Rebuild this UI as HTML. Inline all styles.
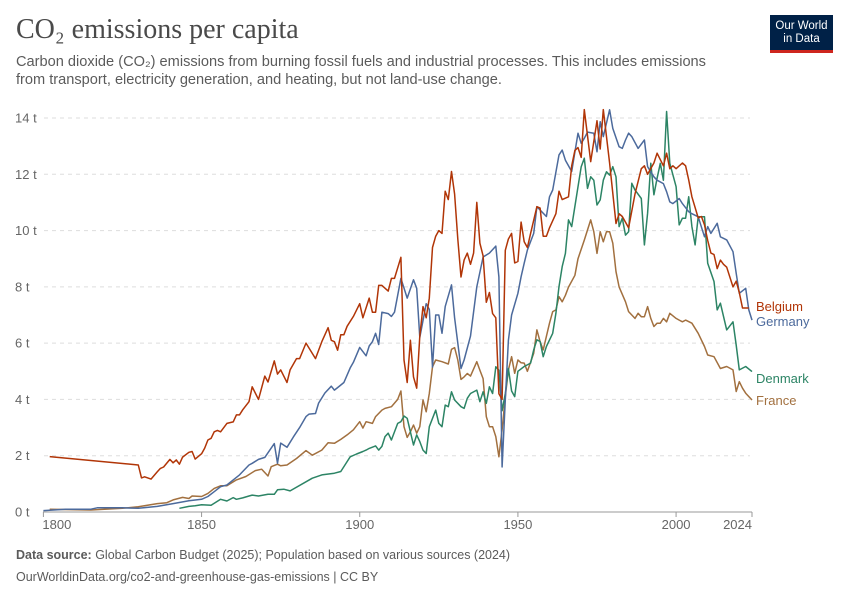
<!DOCTYPE html>
<html><head><meta charset="utf-8">
<style>
body{margin:0;background:#fff;font-family:"Liberation Sans",sans-serif;}
#wrap{position:relative;width:850px;height:600px;overflow:hidden;}
.t{position:absolute;white-space:nowrap;}
</style></head>
<body>
<div id="wrap">
<div class="t" style="left:16px;top:14px;font-family:'Liberation Serif',serif;font-size:28px;font-weight:normal;color:#4a4a4a;">CO₂ emissions per capita</div>
<div class="t" style="left:16px;top:53px;font-size:14.6px;line-height:18px;color:#5b5b5b;">Carbon dioxide (CO₂) emissions from burning fossil fuels and industrial processes. This includes emissions<br>from transport, electricity generation, and heating, but not land-use change.</div>
<div style="position:absolute;left:770px;top:15px;width:63px;height:38px;background:#002147;border-bottom:3px solid #ce261e;box-sizing:border-box;color:#fff;font-size:11.5px;line-height:13px;text-align:center;padding-top:5px;">Our World<br>in Data</div>
<svg id="chart" width="850" height="600" style="position:absolute;left:0;top:0;"></svg>
<div class="t" style="left:16px;top:548px;font-size:12.5px;color:#5b5b5b;"><b>Data source:</b> Global Carbon Budget (2025); Population based on various sources (2024)</div>
<div class="t" style="left:16px;top:570px;font-size:12.5px;color:#5b5b5b;">OurWorldinData.org/co2-and-greenhouse-gas-emissions | CC BY</div>
</div>
<script>
const yTicks=[0,2,4,6,8,10,12,14];
const xTicks=[1800,1850,1900,1950,2000,2024];
const seriesNames=["Belgium","Germany","Denmark","France"];
const belgiumYears=[1802,1830,1831,1832,1834,1836,1837,1838,1840,1841,1842,1843,1844,1846,1847,1848,1850,1851,1852,1853,1854,1855,1856,1858,1860,1861,1862,1863,1865,1866,1868,1870,1871,1873,1874,1875,1877,1878,1880,1881,1883,1886,1888,1890,1891,1892,1893,1894,1895,1896,1898,1900,1901,1903,1904,1905,1906,1907,1909,1910,1911,1913,1914,1915,1916,1917,1918,1919,1920,1921,1922,1923,1924,1925,1926,1927,1928,1929,1930,1931,1932,1933,1934,1935,1936,1937,1938,1939,1940,1941,1942,1943,1944,1945,1946,1947,1948,1949,1950,1951,1952,1953,1954,1956,1957,1958,1959,1960,1962,1963,1964,1966,1967,1968,1969,1970,1971,1973,1975,1976,1977,1979,1981,1982,1983,1985,1987,1989,1990,1991,1993,1994,1996,1997,1998,1999,2000,2002,2003,2004,2005,2007,2008,2009,2010,2011,2012,2013,2014,2015,2016,2018,2019,2020,2021,2022,2023,2024];
const belgiumValues=[1.97,1.67,1.21,1.25,1.17,1.43,1.55,1.6,1.87,1.75,1.85,1.7,1.95,2.12,2.15,1.88,2.07,2.27,2.56,2.62,2.85,2.9,2.85,3.15,3.2,3.45,3.45,3.63,3.92,4.45,4.0,4.83,4.62,5.37,4.9,5.05,4.6,5.05,5.45,5.45,6.0,5.45,6.05,6.55,6.1,6.05,5.75,6.3,6.3,6.6,6.95,7.4,6.9,7.6,7.1,7.1,8.05,8.05,7.85,8.3,8.3,9.05,5.4,4.6,6.1,4.8,4.4,6.25,7.3,6.9,7.6,9.4,9.8,10.0,9.9,11.4,11.1,12.1,11.3,9.7,8.35,8.95,9.2,8.8,9.2,11.0,9.55,9.1,7.45,7.8,7.05,6.9,4.2,4.0,9.3,9.7,9.9,8.85,8.9,10.3,9.6,9.4,9.9,10.85,10.8,9.8,9.8,10.1,10.6,11.4,11.1,11.2,12.3,12.85,12.95,12.6,14.3,12.45,13.9,12.9,14.3,12.4,10.25,10.6,10.5,10.1,11.3,12.2,12.3,12.0,12.4,12.75,12.3,12.75,12.2,12.3,12.2,12.4,12.3,11.8,11.2,10.45,10.5,10.2,9.65,9.2,9.15,8.65,8.95,8.8,8.7,8.0,8.2,7.8,7.25,7.25,7.25];
const germanyYears=[1800,1807,1815,1817,1825,1830,1836,1841,1846,1850,1852,1854,1856,1858,1860,1862,1865,1866,1868,1870,1872,1873,1874,1875,1877,1879,1881,1883,1884,1886,1887,1889,1891,1892,1893,1895,1897,1898,1900,1902,1903,1904,1905,1906,1907,1909,1910,1911,1913,1915,1917,1918,1919,1921,1922,1923,1924,1925,1926,1927,1929,1930,1932,1933,1935,1937,1939,1941,1943,1944,1945,1946,1947,1948,1950,1951,1952,1953,1955,1956,1957,1959,1960,1961,1963,1964,1965,1967,1969,1970,1971,1972,1974,1975,1976,1977,1979,1980,1982,1983,1984,1985,1986,1988,1990,1991,1993,1994,1996,1997,1998,1999,2001,2002,2004,2005,2007,2009,2010,2011,2013,2014,2016,2018,2019,2020,2022,2023,2024];
const germanyValues=[0.05,0.1,0.1,0.15,0.15,0.13,0.2,0.3,0.4,0.45,0.55,0.72,0.9,0.96,1.14,1.32,1.67,1.73,1.87,1.94,2.27,2.43,1.73,2.45,2.3,2.66,3.0,3.39,3.48,3.5,3.87,4.23,4.47,4.33,4.42,4.6,5.12,5.32,5.85,5.55,5.9,6.05,6.35,5.95,7.1,7.05,6.95,7.1,8.3,7.6,8.25,7.95,6.2,7.4,7.2,5.15,7.0,7.0,6.35,7.3,8.07,6.9,5.1,5.4,6.25,8.0,9.06,9.2,9.45,8.35,1.6,3.98,6.1,7.0,7.77,8.36,8.84,9.31,9.9,10.85,10.73,10.5,11.2,11.44,12.69,12.86,12.5,12.1,13.46,13.1,13.28,13.5,13.46,12.8,13.87,13.34,14.29,13.63,12.98,12.92,13.22,13.46,13.34,12.92,13.22,12.27,11.91,11.79,11.67,11.38,11.02,10.96,11.14,10.96,10.67,10.6,10.49,9.78,10.14,9.9,10.26,9.78,9.67,9.25,8.48,7.77,7.95,7.18,6.82];
const denmarkYears=[1843,1846,1848,1850,1853,1856,1858,1860,1861,1863,1865,1866,1868,1871,1873,1874,1876,1878,1885,1888,1892,1894,1896,1897,1899,1901,1902,1903,1905,1906,1907,1908,1909,1910,1912,1913,1914,1915,1917,1918,1919,1920,1921,1922,1924,1925,1926,1927,1928,1929,1930,1932,1933,1934,1935,1937,1938,1939,1940,1941,1942,1943,1944,1945,1946,1947,1948,1949,1950,1952,1954,1955,1956,1957,1958,1959,1961,1962,1963,1964,1965,1966,1967,1969,1970,1971,1972,1973,1974,1975,1976,1977,1978,1979,1980,1981,1982,1983,1984,1985,1986,1987,1989,1990,1991,1992,1993,1994,1995,1996,1997,1998,2000,2001,2002,2003,2004,2005,2006,2007,2009,2010,2012,2013,2014,2016,2018,2019,2020,2022,2024];
const denmarkValues=[0.13,0.2,0.22,0.26,0.24,0.45,0.39,0.51,0.45,0.5,0.57,0.6,0.57,0.63,0.63,0.79,0.81,0.75,1.2,1.32,1.38,1.44,1.79,1.96,2.06,2.15,2.2,2.26,2.35,2.2,2.33,2.68,2.8,2.56,3.15,3.21,3.41,3.33,2.38,2.74,2.5,2.2,2.08,3.03,3.62,3.15,3.03,3.8,3.74,4.27,3.98,3.74,3.68,4.04,4.21,4.33,3.92,4.27,3.86,4.45,4.21,5.16,5.04,3.6,4.21,5.1,4.3,4.1,5.0,5.17,5.29,5.76,6.12,6.06,5.52,5.88,6.35,7.06,8.01,8.72,9.19,10.38,10.14,11.56,12.27,12.57,11.5,11.91,11.79,10.91,11.09,11.79,12.09,11.97,12.27,11.91,10.14,10.44,9.84,9.96,11.68,11.44,11.14,9.49,10.62,12.39,11.27,11.86,12.39,11.79,14.23,12.39,11.56,10.2,10.44,10.44,11.2,10.14,9.49,10.49,10.49,8.84,8.19,7.18,7.42,6.47,6.76,5.93,5.05,5.17,4.99,4.75];
const franceYears=[1802,1815,1825,1830,1836,1839,1841,1844,1846,1847,1850,1852,1854,1856,1858,1861,1864,1867,1869,1871,1872,1874,1875,1877,1880,1883,1885,1888,1890,1892,1894,1896,1898,1900,1901,1902,1904,1905,1907,1908,1910,1912,1913,1914,1915,1916,1917,1918,1919,1920,1921,1922,1923,1924,1926,1928,1929,1930,1931,1932,1933,1934,1935,1937,1938,1939,1940,1941,1942,1943,1944,1945,1946,1947,1948,1949,1950,1951,1952,1953,1955,1956,1957,1958,1960,1961,1962,1963,1964,1965,1966,1968,1969,1971,1972,1973,1974,1975,1976,1977,1978,1979,1980,1981,1982,1984,1985,1987,1988,1989,1990,1991,1992,1993,1994,1995,1996,1997,1998,2000,2001,2002,2003,2005,2007,2009,2010,2012,2014,2016,2018,2019,2020,2021,2022,2024];
const franceValues=[0.1,0.07,0.13,0.19,0.3,0.33,0.43,0.52,0.48,0.57,0.55,0.66,0.84,0.93,0.93,1.14,1.26,1.47,1.52,1.28,1.61,1.7,1.64,1.67,1.9,2.18,2.02,2.2,2.46,2.44,2.58,2.74,2.92,3.21,2.98,3.21,3.15,3.39,3.62,3.68,3.74,4.0,4.3,3.03,2.65,2.85,3.09,2.8,3.03,3.98,3.56,4.21,5.16,5.4,5.34,5.26,5.78,5.84,5.4,4.71,4.8,4.92,4.83,5.34,5.04,4.74,3.39,3.03,3.03,2.68,1.96,2.92,4.1,5.05,5.52,4.93,5.4,5.3,5.29,5.0,5.64,6.47,6.05,5.76,6.71,7.12,7.18,7.65,7.47,7.7,7.99,8.41,9.0,9.66,10.02,10.38,9.96,9.19,9.96,9.6,9.96,9.96,9.55,8.54,8.0,7.47,7.12,6.88,7.06,6.94,6.94,7.3,6.88,6.59,6.71,6.71,6.88,6.76,7.06,6.88,6.82,6.76,6.82,6.71,6.35,5.88,5.58,5.52,5.1,5.17,5.05,4.28,4.63,4.4,4.22,3.98];

const svg=document.getElementById('chart');
const NS='http://www.w3.org/2000/svg';
const X0=43.4,X1=752,Y0=512,Y1=118;
function xs(yr){return X0+(yr-1800)*(X1-X0)/224;}
function ys(v){return Y0-v*(Y0-Y1)/14;}
function mk(tag,attrs){const e=document.createElementNS(NS,tag);for(const k in attrs)e.setAttribute(k,attrs[k]);svg.appendChild(e);return e;}
yTicks.forEach(v=>{
  if(v>0){const g=mk('line',{x1:44,x2:750,y1:ys(v),y2:ys(v),stroke:'#ddd','stroke-dasharray':'4,4'});
  
  }
  const t=mk('text',{x:15,y:ys(v)+4.5,'font-size':13,fill:'#666','font-family':'Liberation Sans, sans-serif'});
  t.textContent=v+' t';
  
  
});
const ax=mk('line',{x1:43,x2:752,y1:Y0,y2:Y0,stroke:'#999'});


xTicks.forEach(yr=>{
  const tk=mk('line',{x1:xs(yr),x2:xs(yr),y1:Y0,y2:Y0+5,stroke:'#999'});
  
  
  let anchor='middle',x=xs(yr);
  if(yr===1800){x=xs(yr)-1;anchor='start';}
  if(yr===2024){x=xs(yr);anchor='end';}
  const t=mk('text',{x:x,y:Y0+17,'font-size':13,fill:'#666','text-anchor':anchor,'font-family':'Liberation Sans, sans-serif'});
  t.textContent=yr;
  
  
});
const colors=['#b13507','#4c6a9c','#2c8465','#a2703f'];
const allYears=[belgiumYears,germanyYears,denmarkYears,franceYears];
const allValues=[belgiumValues,germanyValues,denmarkValues,franceValues];
const labelY=[311,326,383,405];
[3,2,1,0].forEach(i=>{
  const d=allYears[i].map((yr,j)=>(j?'L':'M')+xs(yr).toFixed(1)+','+ys(allValues[i][j]).toFixed(1)).join('');
  const p=mk('path',{d:d,fill:'none',stroke:colors[i],'stroke-width':1.5,'stroke-linejoin':'round'});
  
  
  const t=mk('text',{x:756,y:labelY[i],'font-size':13,fill:colors[i],'font-family':'Liberation Sans, sans-serif'});
  t.textContent=seriesNames[i];
  
  
});
</script>
</body></html>
